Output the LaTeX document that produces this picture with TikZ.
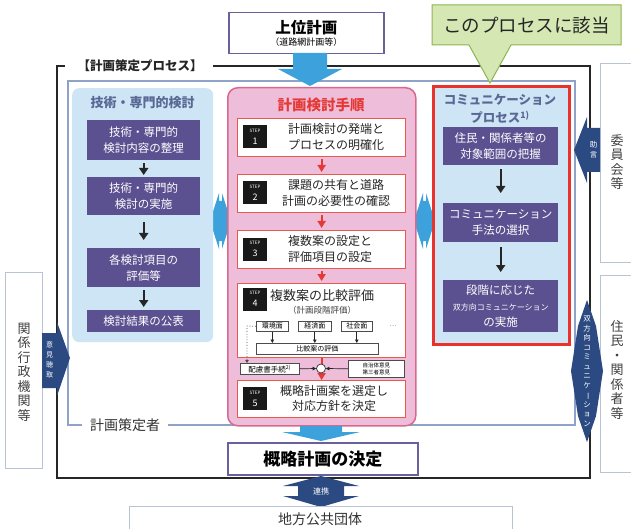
\documentclass[tikz,border=0pt]{standalone}
\usepackage{fontspec}
\setmainfont{Noto Sans CJK JP}
\usepackage{graphicx}
\usetikzlibrary{arrows.meta}
\newcommand{\fsz}[2]{\fontsize{#1}{#2}\selectfont}
\newcommand{\vbar}{\rotatebox[origin=c]{-90}{ー}}
\definecolor{purp}{HTML}{5B5190}
\definecolor{purpline}{HTML}{6B5FA0}
\definecolor{lblue}{HTML}{CDE5F4}
\definecolor{pinkf}{HTML}{EDBDD9}
\definecolor{pinkb}{HTML}{D66A8E}
\definecolor{stepred}{HTML}{E85A50}
\definecolor{titlered}{HTML}{E53935}
\definecolor{slate}{HTML}{5A6896}
\definecolor{darkblue}{HTML}{2C4A82}
\definecolor{skyarrow}{HTML}{3DA2DC}
\definecolor{calloutf}{HTML}{D5E8B4}
\definecolor{calloutb}{HTML}{8DB451}
\definecolor{frameblue}{HTML}{8FA3C8}
\definecolor{sidegray}{HTML}{B9C3D6}
\definecolor{commred}{HTML}{E8322B}
\tikzset{
  pbox/.style={fill=purp, text=white, anchor=north west, align=center, inner sep=0pt, font=\fsz{11.5}{16}},
  stepbox/.style={draw=stepred, line width=1.2pt, fill=white, anchor=north west, inner sep=0pt, minimum width=168},
  stepno/.style={fill=black!90, text=white, minimum width=24, minimum height=23, inner sep=0pt, align=center},
  steptext/.style={text=black!85, align=center, font=\fsz{12}{15.5}},
  blkarrow/.style={-{Triangle[length=7pt,width=9pt]}, line width=2pt, black!85},
  redarrow/.style={-{Triangle[length=7pt,width=8pt]}, line width=1.8pt, titlered},
  thinarrow/.style={-{Triangle[length=3.5pt,width=3.5pt]}, line width=0.7pt, black!85},
  smallbox/.style={draw=black!70, fill=white, line width=0.6pt, inner sep=0pt, anchor=north west, font=\fsz{7}{8}},
  sidebox/.style={draw=sidegray, fill=white, line width=1pt, anchor=north west, inner sep=0pt},
  sidetext/.style={align=center, text=black!75, font=\fsz{13}{14.5}},
  wtext/.style={text=white, align=center, inner sep=0pt},
}
\begin{document}
\begin{tikzpicture}[x=1pt,y=-1pt]
\useasboundingbox (0,0) rectangle (631,529);
\fill[white] (0,0) rectangle (631,529);

% side boxes
\node[sidebox, minimum width=37, minimum height=196] (kankei) at (5,272) {};
\node[sidetext] (kankeit) at (24,372) {関\\係\\行\\政\\機\\関\\等};
\node[sidebox, minimum width=45, minimum height=199] (iin) at (600,63) {};
\node[sidetext] (iint) at (617,162) {委\\員\\会\\等};
\node[sidebox, minimum width=45, minimum height=197] (jumin) at (600,275) {};
\node[sidetext] (jumint) at (617,370) {住\\民\\・\\関\\係\\者\\等};

% outer black frame
\draw[line width=1.8pt, black!85] (65,66) -- (57,66) -- (57,478) -- (590,478) -- (590,66) -- (213,66);
\node[font=\fsz{12.5}{14}\bfseries, text=black!85] (proc) at (140,66) {【計画策定プロセス】};

% inner frame
\fill[white] (68,81) rectangle (575,425);
\draw[frameblue, line width=1.3pt] (82,425) -- (68,425) -- (68,81) -- (575,81) -- (575,425) -- (168,425);
\node[font=\fsz{14}{16}, text=black!80] (sakutei) at (125,425) {計画策定者};

% blue double arrows between columns
\fill[skyarrow] (210,221) -- (219,193) -- (219,201) -- (222,201) -- (222,193) -- (231,221) -- (222,249) -- (222,241) -- (219,241) -- (219,249) -- cycle;
\fill[skyarrow] (414,221) -- (423,193) -- (423,201) -- (426,201) -- (426,193) -- (435,221) -- (426,249) -- (426,241) -- (423,241) -- (423,249) -- cycle;

% left column
\node[fill=lblue, rounded corners=7, minimum width=141, minimum height=254, anchor=north west, inner sep=0pt] (leftcol) at (72,88) {};
\node[text=slate, font=\fsz{13}{15}\bfseries] (ltitle) at (142.5,103) {技術・専門的検討};
\node[pbox, minimum width=113, minimum height=40] (l1) at (87,120) {技術・専門的\\検討内容の整理};
\node[pbox, minimum width=113, minimum height=38] (l2) at (87,177) {技術・専門的\\検討の実施};
\node[pbox, minimum width=113, minimum height=39] (l3) at (87,248) {各検討項目の\\評価等};
\node[pbox, minimum width=113, minimum height=22] (l4) at (87,310) {検討結果の公表};
\draw[blkarrow] ([yshift=-3]l1.south) -- ([yshift=2]l2.north);
\draw[blkarrow] ([yshift=-7]l2.south) -- ([yshift=8]l3.north);
\draw[blkarrow] ([yshift=-3]l3.south) -- ([yshift=3]l4.north);

% middle column
\node[fill=pinkf, draw=pinkb, line width=1.5pt, rounded corners=10, minimum width=188, minimum height=338, anchor=north west, inner sep=0pt] (midcol) at (227,87) {};
\node[text=titlered, font=\fsz{14.5}{16}\bfseries] (mtitle) at (321,105) {計画検討手順};

\node[stepbox, minimum height=38] (s1) at (237,118) {};
\node[stepno] (n1) at (255,137) {{\fsz{4.5}{5}STEP}\\{\fsz{9}{10}1}};
\node[steptext] (t1) at (336,137) {計画検討の発端と\\プロセスの明確化};

\node[stepbox, minimum height=38] (s2) at (237,174) {};
\node[stepno] (n2) at (255,193) {{\fsz{4.5}{5}STEP}\\{\fsz{9}{10}2}};
\node[steptext] (t2) at (336,193) {課題の共有と道路\\計画の必要性の確認};

\node[stepbox, minimum height=38] (s3) at (237,230) {};
\node[stepno] (n3) at (255,249) {{\fsz{4.5}{5}STEP}\\{\fsz{9}{10}3}};
\node[steptext] (t3) at (330,249) {複数案の設定と\\評価項目の設定};

\node[stepbox, minimum height=74] (s4) at (237,283) {};
\node[stepno] (n4) at (255,299) {{\fsz{4.5}{5}STEP}\\{\fsz{9}{10}4}};
\node[text=black!85, font=\fsz{13}{15}] (t4) at (322,296) {複数案の比較評価};
\node[text=black!75, font=\fsz{8.5}{10}] (t4b) at (322,310) {（計画段階評価）};
\node[smallbox, minimum width=32, minimum height=10] (kankyo) at (256,321) {環境面};
\node[smallbox, minimum width=33, minimum height=10] (keizai) at (298,321) {経済面};
\node[smallbox, minimum width=31, minimum height=10] (shakai) at (341,321) {社会面};
\node[font=\fsz{7}{8}, text=black!60] (dots) at (393,326) {…};
\node[smallbox, minimum width=122, minimum height=11] (hikaku) at (256,343) {比較案の評価};
\draw[thinarrow] (kankyo.south) -- (kankyo.south |- hikaku.north);
\draw[thinarrow] (keizai.south) -- (keizai.south |- hikaku.north);
\draw[thinarrow] (shakai.south) -- (shakai.south |- hikaku.north);

\node[stepbox, minimum height=37] (s5) at (237,380) {};
\node[stepno] (n5) at (255,398.5) {{\fsz{4.5}{5}STEP}\\{\fsz{9}{10}5}};
\node[steptext] (t5) at (334,398.5) {概略計画案を選定し\\対応方針を決定};

\draw[redarrow] ([yshift=-2]s1.south) -- ([yshift=2]s2.north);
\draw[redarrow] ([yshift=-2]s2.south) -- ([yshift=2]s3.north);
\draw[redarrow] ([yshift=-2]s3.south) -- ([yshift=2]s4.north);
\draw[redarrow] (s4.south) -- (s5.north);

\node[smallbox, minimum width=59, minimum height=11, font=\fsz{7.5}{8}] (hairyo) at (240,363) {配慮書手続\textsuperscript{2)}};
\node[smallbox, minimum width=56, minimum height=17, align=center, font=\fsz{5.5}{7}] (jichi) at (348,360) {自治体意見\\第三者意見};
\node[circle, draw=black!80, fill=white, line width=0.7pt, minimum size=9, inner sep=0pt] (join) at (321,368.5) {};
\draw[thinarrow] (hairyo.east) -- (join.west);
\draw[thinarrow] (jichi.west) -- (join.east);
\coordinate (dotc) at (247,326);
\draw[black!70, dotted, line width=0.8pt, -{Triangle[length=3pt,width=3.5pt]}] (kankyo.west) -- (dotc) -- (dotc |- hairyo.north);

% right column
\node[fill=lblue, draw=commred, line width=3pt, minimum width=136, minimum height=258, anchor=north west, inner sep=0pt] (rightcol) at (432,85) {};
\node[text=slate, font=\fsz{12.5}{18}\bfseries, align=center] (rtitle) at (500,109) {コミュニケーション\\プロセス\textsuperscript{1)}};
\node[pbox, minimum width=115, minimum height=38] (r1) at (443,127) {住民・関係者等の\\対象範囲の把握};
\node[pbox, minimum width=115, minimum height=39] (r2) at (443,203) {コミュニケーション\\手法の選択};
\node[pbox, minimum width=115, minimum height=52] (r3) at (443,280) {段階に応じた\\{\fsz{8}{13}双方向コミュニケーション}\\の実施};
\draw[blkarrow] ([yshift=-4]r1.south) -- ([yshift=10]r2.north);
\draw[blkarrow] ([yshift=-5]r2.south) -- ([yshift=8]r3.north);

% dark blue side arrows
\fill[darkblue] (600,128) -- (587,128) -- (587,117) -- (574,150) -- (587,183) -- (587,172) -- (600,172) -- cycle;
\node[wtext, font=\fsz{7.5}{10}] (jogen) at (593.5,150) {助\\言};
\fill[darkblue] (587,300) -- (596,326) -- (603,371) -- (596,416) -- (587,442) -- (578,416) -- (571,371) -- (578,326) -- cycle;
\node[wtext, font=\fsz{7.5}{9.5}] (sohoko) at (587,371) {双\\方\\向\\コ\\ミ\\ュ\\ニ\\ケ\\\vbar\\シ\\ョ\\ン};
\fill[darkblue] (42,333) -- (57,333) -- (57,322) -- (70,358) -- (57,396) -- (57,388) -- (42,388) -- cycle;
\node[wtext, font=\fsz{7}{10}] (iken) at (49.5,360) {意\\見\\聴\\取};

% top box and arrow
\node[draw=purpline, line width=1.5pt, fill=white, minimum width=155, minimum height=41, anchor=north west, align=center, inner sep=0pt] (top) at (228,12) {{\fsz{15.5}{17}\bfseries 上位計画}\\{\fsz{9}{11}（道路網計画等）}};
\fill[skyarrow] (293,53) -- (327,53) -- (327,69) -- (342,69) -- (310,86) -- (278,69) -- (293,69) -- cycle;

% bottom
\node[draw=purpline, line width=1.5pt, fill=white, minimum width=190, minimum height=32, anchor=north west, inner sep=0pt, font=\fsz{17}{20}\bfseries] (gairyaku) at (227,442) {概略計画の決定};
\fill[skyarrow] (300,426) -- (342,426) -- (342,432) -- (360,432) -- (321,441) -- (282,432) -- (300,432) -- cycle;
\fill[darkblue] (321,476) -- (359,486) -- (344,486) -- (344,496) -- (359,496) -- (321,507) -- (283,496) -- (298,496) -- (298,486) -- (283,486) -- cycle;
\node[wtext, font=\fsz{8}{9}] (renkei) at (321,491) {連携};
\node[sidebox, minimum width=383, minimum height=40] (chiho) at (129,506) {};
\node[font=\fsz{14}{16}, text=black!80] (chihot) at (320,519) {地方公共団体};

% callout
\draw[calloutb, fill=calloutf, line width=1pt] (432,5) -- (621,5) -- (621,45) -- (511,45) -- (490,83) -- (469,45) -- (432,45) -- cycle;
\node[font=\fsz{18.5}{20}, text=black!85] (callt) at (526.5,25) {このプロセスに該当};
\end{tikzpicture}
\end{document}
